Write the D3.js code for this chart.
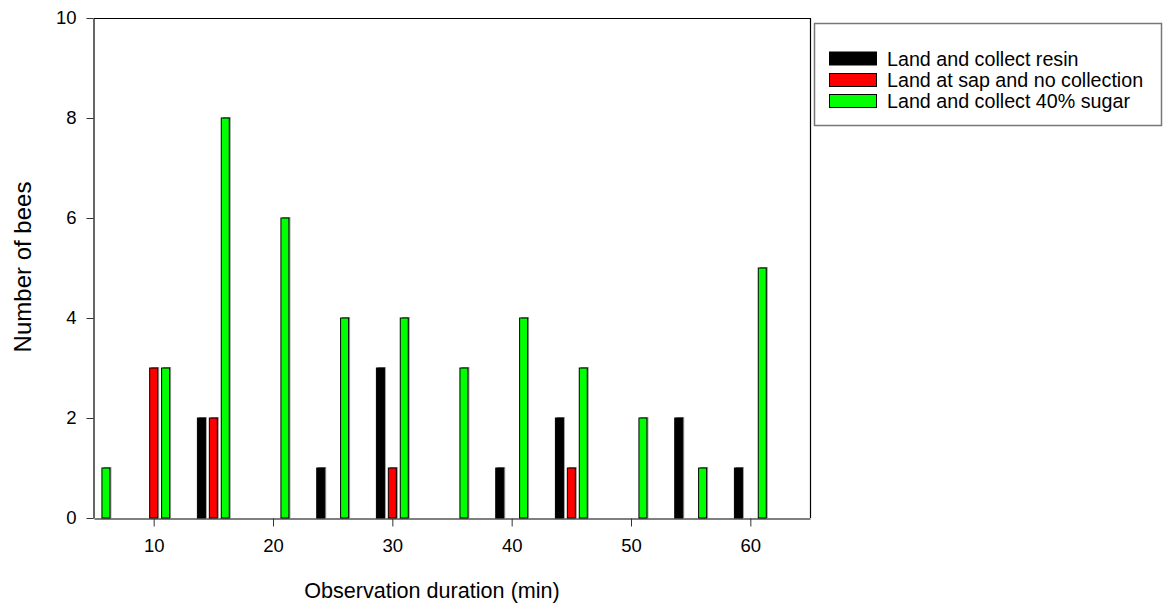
<!DOCTYPE html>
<html>
<head>
<meta charset="utf-8">
<script src="https://cdn.jsdelivr.net/npm/d3@7"></script>
<style>
  html, body { margin: 0; padding: 0; background: #fff; }
  svg { display: block; font-family: "Liberation Sans", Arial, sans-serif; }
</style>
</head>
<body>
<svg id="chart" width="1163" height="604"></svg>
<script>
// Data
const seriesNames = ["Land and collect resin", "Land at sap and no collection", "Land and collect 40% sugar"];
const seriesColors = ["#000000", "#ff0000", "#00ff00"];

const resinX = [14, 24, 29, 39, 44, 54, 59];
const resinY = [2, 1, 3, 1, 2, 2, 1];

const sapX = [10, 15, 30, 45];
const sapY = [3, 2, 1, 1];

const sugarX = [6, 11, 16, 21, 26, 31, 36, 41, 46, 51, 56, 61];
const sugarY = [1, 3, 8, 6, 4, 4, 3, 4, 3, 2, 1, 5];

const xTicks = [10, 20, 30, 40, 50, 60];
const yTicks = [0, 2, 4, 6, 8, 10];

const svg = d3.select("#chart");
const m = { left: 94, right: 810, top: 18, bottom: 518 };

const x = d3.scaleLinear().domain([5, 65]).range([m.left, m.right]);
const y = d3.scaleLinear().domain([0, 10]).range([m.bottom, m.top]);
const barW = 0.67; // in data units

const series = [
  { xs: resinX, ys: resinY, color: seriesColors[0] },
  { xs: sapX, ys: sapY, color: seriesColors[1] },
  { xs: sugarX, ys: sugarY, color: seriesColors[2] }
];

// bars
series.forEach(s => {
  const data = s.xs.map((v, i) => ({ x: v, y: s.ys[i] }));
  const g = svg.append("g");
  // shadow
  g.selectAll("rect.sh").data(data).enter().append("rect")
    .attr("class", "sh")
    .attr("x", d => x(d.x - barW / 2) + 1.5)
    .attr("y", d => y(d.y) - 1)
    .attr("width", d => x(d.x + barW / 2) - x(d.x - barW / 2))
    .attr("height", d => y(0) - y(d.y) + 1)
    .attr("fill", "#9a9a9a");
  g.selectAll("rect.bar").data(data).enter().append("rect")
    .attr("class", "bar")
    .attr("x", d => x(d.x - barW / 2))
    .attr("y", d => y(d.y))
    .attr("width", d => x(d.x + barW / 2) - x(d.x - barW / 2))
    .attr("height", d => y(0) - y(d.y))
    .attr("fill", s.color)
    .attr("stroke", "#000")
    .attr("stroke-width", 1);
});

// frame lines (top and right)
svg.append("line").attr("x1", m.left).attr("x2", m.right).attr("y1", m.top + 0.5).attr("y2", m.top + 0.5)
  .attr("stroke", "#000").attr("stroke-width", 1.2);
svg.append("line").attr("x1", m.right + 0.5).attr("x2", m.right + 0.5).attr("y1", m.top).attr("y2", m.bottom)
  .attr("stroke", "#000").attr("stroke-width", 1.2);

// x axis
const xAxis = svg.append("g")
  .attr("transform", `translate(0,${m.bottom + 0.5})`)
  .call(d3.axisBottom(x).tickValues(xTicks).tickSize(8).tickPadding(12).tickSizeOuter(0));
xAxis.select(".domain").attr("stroke", "#000").attr("stroke-width", 1.2);
xAxis.selectAll(".tick line").attr("stroke", "#333");
xAxis.selectAll("text").attr("font-size", "18.5px").attr("fill", "#000")
  .attr("font-family", "'Liberation Sans', Arial, sans-serif");

// y axis
const yAxis = svg.append("g")
  .attr("transform", `translate(${m.left - 0.5},0)`)
  .call(d3.axisLeft(y).tickValues(yTicks).tickSize(7).tickPadding(10).tickSizeOuter(0));
yAxis.select(".domain").attr("stroke", "#333").attr("stroke-width", 1.5);
yAxis.selectAll(".tick line").attr("stroke", "#333");
yAxis.selectAll("text").attr("font-size", "18.5px").attr("fill", "#000")
  .attr("font-family", "'Liberation Sans', Arial, sans-serif");

// axis titles
svg.append("text")
  .attr("x", 432)
  .attr("y", 598)
  .attr("text-anchor", "middle")
  .attr("font-size", "21.6px")
  .attr("fill", "#000")
  .text("Observation duration (min)");

svg.append("text")
  .attr("transform", `translate(31,${(m.top + m.bottom) / 2 - 1}) rotate(-90)`)
  .attr("text-anchor", "middle")
  .attr("font-size", "24px")
  .attr("fill", "#000")
  .text("Number of bees");

// legend
const lg = svg.append("g");
lg.append("rect")
  .attr("x", 814.5).attr("y", 23.5).attr("width", 347).attr("height", 102)
  .attr("fill", "#fff").attr("stroke", "#777").attr("stroke-width", 1.5);
const rowY = [58.5, 80, 101];
seriesNames.forEach((name, i) => {
  lg.append("rect")
    .attr("x", 829.5).attr("y", rowY[i] - 6.5).attr("width", 47).attr("height", 13)
    .attr("fill", seriesColors[i]).attr("stroke", "#000").attr("stroke-width", 1);
  lg.append("text")
    .attr("x", 887).attr("y", rowY[i] + 7)
    .attr("font-size", "19.7px").attr("fill", "#000")
    .text(name);
});
</script>
</body>
</html>
